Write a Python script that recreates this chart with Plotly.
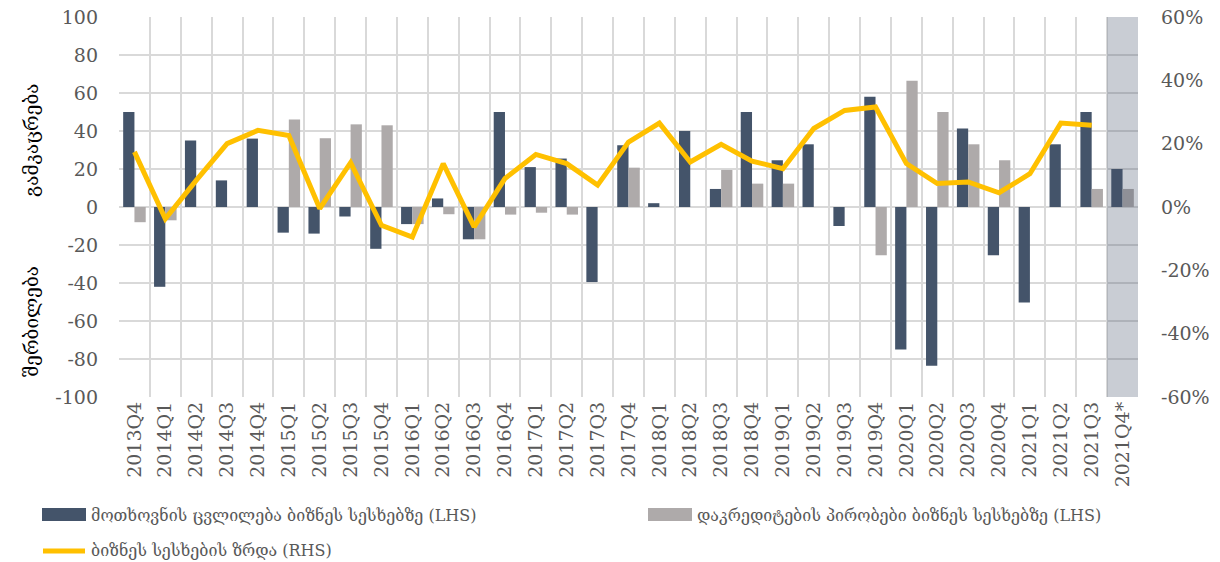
import plotly.graph_objects as go

categories = ["2013Q4", "2014Q1", "2014Q2", "2014Q3", "2014Q4", "2015Q1", "2015Q2", "2015Q3",
              "2015Q4", "2016Q1", "2016Q2", "2016Q3", "2016Q4", "2017Q1", "2017Q2", "2017Q3",
              "2017Q4", "2018Q1", "2018Q2", "2018Q3", "2018Q4", "2019Q1", "2019Q2", "2019Q3",
              "2019Q4", "2020Q1", "2020Q2", "2020Q3", "2020Q4", "2021Q1", "2021Q2", "2021Q3",
              "2021Q4*"]

demand_change = [50, -42, 35, 14, 36, -13.5, -14, -5, -22, -9, 4.5, -17, 50, 21, 25.5, -39.5,
                 32.5, 2, 40, 9.5, 50, 24.6, 33, -10, 58, -75, -83.5, 41.3, -25.4, -50.3, 33, 50,
                 20]

credit_terms = [-8, -7, 0, 0, 0, 46, 36.2, 43.5, 43, -9, -3.8, -17, -4, -3, -4, 0,
                20.7, 0, 0, 19.5, 12.3, 12.3, 0, 0, -25.4, 66.5, 50, 33, 24.6, 0, 0, 9.5,
                9.5]

loan_growth = [17.4, -3.7, 8.4, 20.0, 24.2, 22.6, -0.5, 14.0, -5.8, -9.5, 13.7, -6.3, 9.0, 16.6,
               13.7, 6.9, 20.5, 26.5, 14.2, 19.8, 14.5, 12.1, 24.8, 30.5, 31.6, 13.7, 7.4, 7.9,
               4.5, 10.5, 26.5, 25.8, None]

left_ticks = list(range(-100, 101, 20))
left_ticktext = [str(v) for v in left_ticks]
right_ticks = list(range(-60, 61, 20))
right_ticktext = [f"{v}%" for v in right_ticks]

name_demand = "მოთხოვნის ცვლილება ბიზნეს სესხებზე (LHS)"
name_terms = "დაკრედიტების პირობები ბიზნეს სესხებზე (LHS)"
name_growth = "ბიზნეს სესხების ზრდა (RHS)"

DARK = "#44546A"
GREY = "#AEAAAA"
YELLOW = "#FFC000"
TXT = "#595959"
GRID = "#D9D9D9"
FONT = "DejaVu Serif, Liberation Serif, serif"

# page offset of the figure (default body margin)
OFF = 8
W, H = 1220 - 2 * OFF, 562 - OFF
# plot area in page pixels
PL, PR, PT, PB = 119, 1138, 17, 397
L, R, T, B = PL - OFF, PR - OFF, PT - OFF, PB - OFF


def px(xp):
    return (xp - PL) / (PR - PL)


def py(yp):
    return (PB - yp) / (PB - PT)


fig = go.Figure()
fig.add_trace(go.Bar(x=categories, y=demand_change, name=name_demand,
                     marker=dict(color=DARK, line=dict(width=0)), showlegend=False))
fig.add_trace(go.Bar(x=categories, y=credit_terms, name=name_terms,
                     marker=dict(color=GREY, line=dict(width=0)), showlegend=False))
fig.add_trace(go.Scatter(x=categories, y=loan_growth, name=name_growth, yaxis="y2",
                         mode="lines", line=dict(color=YELLOW, width=5),
                         connectgaps=False, showlegend=False))

shapes = [
    dict(type="rect", xref="x", yref="paper", x0=31.5, x1=32.5, y0=0, y1=1,
         fillcolor="rgba(68,84,106,0.29)", line=dict(width=0), layer="above"),
    # legend symbols
    dict(type="rect", xref="paper", yref="paper", x0=px(42), x1=px(86), y0=py(521), y1=py(508),
         fillcolor=DARK, line=dict(width=0)),
    dict(type="rect", xref="paper", yref="paper", x0=px(648), x1=px(692), y0=py(521), y1=py(508),
         fillcolor=GREY, line=dict(width=0)),
    dict(type="line", xref="paper", yref="paper", x0=px(43), x1=px(85), y0=py(551), y1=py(551),
         line=dict(color=YELLOW, width=5)),
]

annotations = [
    dict(text=name_demand, xref="paper", yref="paper", x=px(89), y=py(515), xanchor="left",
         yanchor="middle", showarrow=False, font=dict(size=16, color=TXT, family=FONT)),
    dict(text=name_terms, xref="paper", yref="paper", x=px(695), y=py(515), xanchor="left",
         yanchor="middle", showarrow=False, font=dict(size=16, color=TXT, family=FONT)),
    dict(text=name_growth, xref="paper", yref="paper", x=px(89), y=py(550), xanchor="left",
         yanchor="middle", showarrow=False, font=dict(size=16, color=TXT, family=FONT)),
    dict(text="გამკაცრება", xref="paper", yref="paper", x=px(31), y=py(140), xanchor="center",
         yanchor="middle", textangle=-90, showarrow=False, font=dict(size=19, color="#000000", family=FONT)),
    dict(text="შერბილება", xref="paper", yref="paper", x=px(31), y=py(322), xanchor="center",
         yanchor="middle", textangle=-90, showarrow=False, font=dict(size=19, color="#000000", family=FONT)),
]

fig.update_layout(
    width=W, height=H,
    margin=dict(l=L, r=W - R, t=T, b=H - B, pad=0, autoexpand=False),
    paper_bgcolor="white", plot_bgcolor="white",
    barmode="group", bargap=0.27, bargroupgap=0,
    font=dict(family=FONT, color=TXT, size=19),
    xaxis=dict(type="category", categoryorder="array", categoryarray=categories,
               tickangle=-90, tickson="boundaries", ticks="", showgrid=True,
               gridcolor=GRID, gridwidth=1.5, showline=False, zeroline=False,
               tickfont=dict(size=19, color=TXT, family=FONT), range=[-0.5, 32.5],
               automargin=False, ticklabeloverflow="allow"),
    yaxis=dict(range=[-100, 100], tickmode="array", tickvals=left_ticks, ticktext=left_ticktext,
               showgrid=True, gridcolor=GRID,
               gridwidth=1.5, zeroline=False, showline=False, ticks="",
               tickfont=dict(size=19, color=TXT, family=FONT), ticklabelstandoff=20,
               automargin=False, ticklabeloverflow="allow"),
    yaxis2=dict(range=[-60, 60], tickmode="array", tickvals=right_ticks, ticktext=right_ticktext,
                overlaying="y", side="right", showgrid=False, zeroline=False, showline=False,
                ticks="", tickfont=dict(size=19, color=TXT, family=FONT), ticklabelstandoff=22,
                automargin=False, ticklabeloverflow="allow"),
    shapes=shapes,
    annotations=annotations,
    showlegend=False,
)

fig.write_html("out.html")
